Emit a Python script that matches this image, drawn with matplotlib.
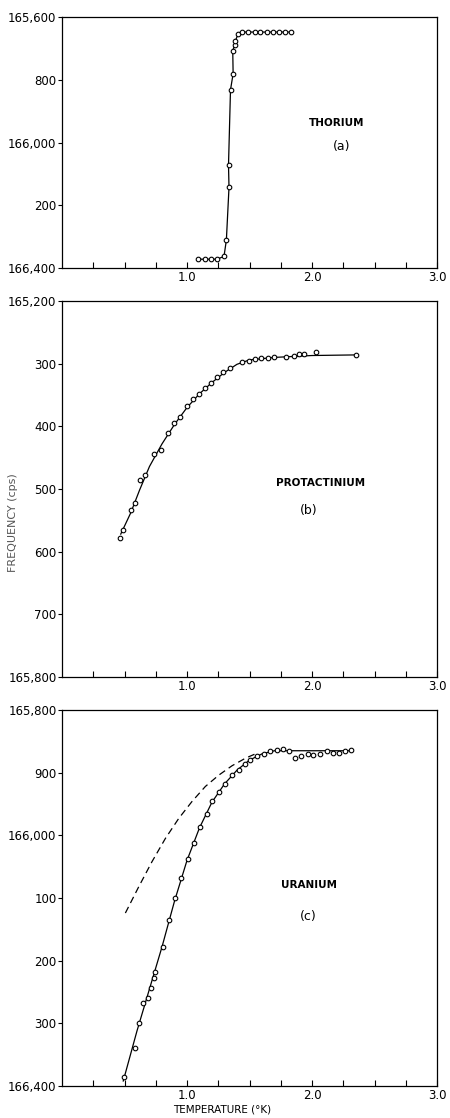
import matplotlib

matplotlib.use("Agg")
import matplotlib.pyplot as plt

# ---- data ---------------------------------------------------------------
# (a) thorium
th_T = [1.09, 1.14, 1.19, 1.24, 1.296, 1.315, 1.336, 1.332, 1.348, 1.369,
        1.366, 1.38, 1.387, 1.408, 1.44, 1.487, 1.544, 1.587, 1.636, 1.686,
        1.734, 1.784, 1.835]
th_f = [166372, 166372, 166372, 166372, 166363, 166311, 166143, 166072,
        165832, 165781, 165708, 165690, 165676, 165655, 165648, 165648,
        165648, 165648, 165648, 165648, 165648, 165648, 165648]

# (b) protactinium
pa_T = [0.461, 0.491, 0.555, 0.581, 0.627, 0.661, 0.736, 0.795, 0.848,
        0.896, 0.941, 1.0, 1.051, 1.093, 1.147, 1.195, 1.243, 1.291, 1.344,
        1.44, 1.499, 1.547, 1.595, 1.648, 1.696, 1.792, 1.856, 1.899, 1.936,
        2.032, 2.355]
pa_f = [165578, 165566, 165533, 165522, 165485, 165477, 165444, 165437,
        165411, 165394, 165385, 165368, 165357, 165349, 165339, 165331,
        165321, 165314, 165307, 165297, 165295, 165293, 165291, 165291,
        165290, 165289, 165287, 165285, 165285, 165282, 165286]
pa_fit_T = [0.47, 0.55, 0.62, 0.70, 0.80, 0.90, 1.0, 1.1, 1.2, 1.3, 1.4,
            1.5, 1.7, 2.0, 2.36]
pa_fit_f = [165572, 165538, 165502, 165464, 165428, 165397, 165370, 165348,
            165330, 165314, 165301, 165294, 165290, 165287, 165286]

# (c) uranium
u_T = [0.499, 0.587, 0.613, 0.648, 0.688, 0.712, 0.736, 0.747, 0.805,
       0.859, 0.907, 0.955, 1.005, 1.056, 1.104, 1.157, 1.2, 1.253, 1.307,
       1.36, 1.413, 1.461, 1.507, 1.557, 1.613, 1.664, 1.717, 1.765, 1.816,
       1.861, 1.915, 1.968, 2.008, 2.061, 2.12, 2.168, 2.219, 2.267, 2.312]
u_f = [166385, 166340, 166300, 166268, 166260, 166244, 166228, 166218,
       166178, 166135, 166100, 166068, 166038, 166012, 165986, 165966,
       165945, 165931, 165918, 165904, 165895, 165886, 165880, 165874,
       165870, 165865, 165864, 165862, 165866, 165876, 165874, 165870,
       165872, 165871, 165865, 165869, 165869, 165866, 165864]
u_fit_T = [0.49, 0.6, 0.7, 0.8, 0.9, 1.0, 1.1, 1.2, 1.3, 1.4, 1.5, 1.6,
           1.7, 2.31]
u_fit_f = [166392, 166312, 166245, 166178, 166105, 166040, 165988, 165947,
           165918, 165896, 165880, 165870, 165865, 165865]
u_dash_T = [0.507, 0.614, 0.72, 0.827, 0.934, 1.04, 1.147, 1.254, 1.36,
            1.467, 1.547]
u_dash_f = [166124, 166082, 166042, 166005, 165973, 165946, 165922, 165904,
            165889, 165877, 165870]

# axis ticks / labels
x_ticks = [0.25, 0.5, 0.75, 1.0, 1.25, 1.5, 1.75, 2.0, 2.25, 2.5, 2.75, 3.0]
x_labels = ["", "", "", "1.0", "", "", "", "2.0", "", "", "", "3.0"]
a_yticks = [165600, 165800, 166000, 166200, 166400]
a_ylabels = ["165,600", "800", "166,000", "200", "166,400"]
b_yticks = [165200, 165300, 165400, 165500, 165600, 165700, 165800]
b_ylabels = ["165,200", "300", "400", "500", "600", "700", "165,800"]
c_yticks = [165800, 165900, 166000, 166100, 166200, 166300, 166400]
c_ylabels = ["165,800", "900", "166,000", "100", "200", "300", "166,400"]

W, H = 450, 1118
plt.rcParams["font.family"] = ["DejaVu Sans"]
fig = plt.figure(figsize=(W / 100, H / 100), dpi=100)


def box(top, bottom, left=62, right=437):
    return [left / W, 1 - bottom / H, (right - left) / W, (bottom - top) / H]


ax_a = fig.add_axes(box(17, 268))
ax_b = fig.add_axes(box(301, 677))
ax_c = fig.add_axes(box(710, 1086))

mk = dict(marker="o", ms=3.3, mfc="white", mec="black", mew=0.8,
          linestyle="none", zorder=3)


def style(ax, yticks, ylabels):
    ax.set_xlim(0, 3.0)
    ax.set_ylim(yticks[-1], yticks[0])
    ax.set_xticks(x_ticks)
    ax.set_xticklabels(x_labels)
    ax.set_yticks(yticks)
    ax.set_yticklabels(ylabels)
    ax.tick_params(axis="x", direction="in", length=4, width=0.8,
                   labelsize=8.5, pad=2)
    ax.tick_params(axis="y", direction="out", length=3, width=0.8,
                   labelsize=8.5, pad=1)
    for s in ax.spines.values():
        s.set_linewidth(0.9)


# (a)
ax_a.plot(th_T, th_f, color="black", lw=0.9)
ax_a.plot(th_T, th_f, **mk)
ax_a.text(2.2, 165938, "THORIUM", fontsize=7.5, fontweight="semibold",
          ha="center", va="center")
ax_a.text(2.24, 166014, "(a)", fontsize=9, ha="center", va="center")
style(ax_a, a_yticks, a_ylabels)

# (b)
ax_b.plot(pa_fit_T, pa_fit_f, color="black", lw=0.9)
ax_b.plot(pa_T, pa_f, **mk)
ax_b.text(2.07, 165490, "PROTACTINIUM", fontsize=7.5, fontweight="semibold",
          ha="center", va="center")
ax_b.text(1.97, 165534, "(b)", fontsize=9, ha="center", va="center")
style(ax_b, b_yticks, b_ylabels)

# (c)
ax_c.plot(u_fit_T, u_fit_f, color="black", lw=0.9)
ax_c.plot(u_dash_T, u_dash_f, color="black", lw=0.9, dashes=(5.5, 3.5))
ax_c.plot(u_T, u_f, **mk)
ax_c.text(1.98, 166079, "URANIUM", fontsize=7.5, fontweight="semibold",
          ha="center", va="center")
ax_c.text(1.97, 166130, "(c)", fontsize=9, ha="center", va="center")
style(ax_c, c_yticks, c_ylabels)

fig.text(13 / W, 1 - 523 / H, "FREQUENCY (cps)", rotation=90, fontsize=8,
         color="#555555", ha="center", va="center")
fig.text(222 / W, 1 - 1110 / H, "TEMPERATURE (°K)", fontsize=7.5,
         ha="center", va="center")

fig.savefig("out.png", dpi=100)
